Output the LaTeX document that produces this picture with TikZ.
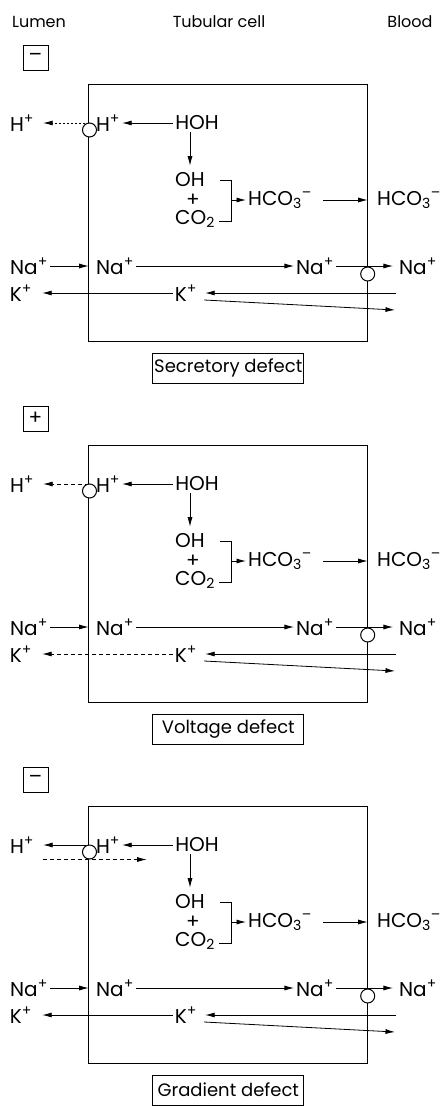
\documentclass[tikz,border=0pt]{standalone}
\usepackage{fontspec}
\setmainfont{Poppins}
\usetikzlibrary{arrows.meta}
\tikzset{
  ion/.style={inner sep=2pt, font=\fontsize{20}{22}\selectfont},
  head/.style={inner sep=0pt, font=\fontsize{16}{18}\selectfont},
  flow/.style={line width=0.8pt, -{Latex[length=9.5pt,width=5pt]}},
  wall/.style={line width=1pt},
  pore/.style={draw, wall, circle, fill=white, inner sep=0pt, minimum size=14pt},
  signbox/.style={draw, line width=0.7pt, minimum width=25pt, minimum height=25pt,
    inner sep=0pt, font=\fontsize{20}{20}\selectfont},
  defectbox/.style={draw, line width=0.7pt, minimum width=151pt, minimum height=30pt,
    inner sep=0pt, font=\fontsize{18}{20}\selectfont},
  finedash/.style={dash pattern=on 2pt off 2pt},
  longdash/.style={dash pattern=on 4pt off 3pt},
}
% one panel: #1 shift, #2 sign, #3 defect, #4 style of H+ exit, #5 style of K+ exit
\newcommand{\tubcell}[5]{%
  \begin{scope}[yshift=-#1pt]
    % lumen potential
    \node[signbox] (sign) at (35.5,57.5) {#2};
    % cell outline
    \draw[wall] (88.7,84.3) rectangle (367.7,341);
    % membrane points
    \coordinate (mH) at (88.7,123);
    \coordinate (mHCO) at (367.7,200);
    \coordinate (mNa) at (88.7,266);
    \coordinate (brk) at (231.7,200);
    \coordinate (kin) at (396,293);
    \coordinate (kout) at (395,310);
    \coordinate (hdin) at (42.7,137.5);
    \coordinate (hdout) at (146.7,137.5);
    % ions
    \node[ion] (Hl) at (22,123) {H\textsuperscript{+}};
    \node[ion] (Hc) at (108,123) {H\textsuperscript{+}};
    \node[ion] (HOH) at (197,123) {HOH};
    \node[ion, anchor=west] (OH) at (173,180) {OH};
    \node[ion] (plus) at (193,200) {+};
    \node[ion, anchor=west] (CO) at (173,219) {CO\textsubscript{2}};
    \node[ion, anchor=west] (HCOc) at (246,200) {HCO\textsubscript{3}\textsuperscript{–}};
    \node[ion, anchor=west] (HCOb) at (375,200) {HCO\textsubscript{3}\textsuperscript{–}};
    \node[ion] (Nal) at (29,266) {Na\textsuperscript{+}};
    \node[ion] (Nac) at (115,266) {Na\textsuperscript{+}};
    \node[ion] (Nar) at (315,266) {Na\textsuperscript{+}};
    \node[ion] (Nab) at (418,266) {Na\textsuperscript{+}};
    \node[ion] (Kl) at (21,293) {K\textsuperscript{+}};
    \node[ion] (Kc) at (186,293) {K\textsuperscript{+}};
    % H+ and bicarbonate
    \draw[flow] (HOH) -- (Hc);
    \draw[flow, #4] (mH) -- (Hl);
    \draw[flow, shorten >=5pt] (OH.north |- HOH.south) -- (OH.north);
    \draw[line width=0.8pt] (220,180) -| (231.7,221) -- (219,221);
    \draw[flow] (brk) -- (brk -| HCOc.west);
    \draw[flow, shorten <=9pt] (HCOc.east |- mHCO) -- (mHCO);
    % Na+ and K+
    \draw[flow] (Nal) -- (mNa);
    \draw[flow] (Nac) -- (Nar);
    \draw[flow, shorten >=4pt] (Nar) -- (Nab);
    \draw[flow, #5, shorten >=8pt] (Kc) -- (Kl);
    \draw[flow, shorten >=6pt] (kin) -- (Kc);
    \draw[flow] ([xshift=5pt,yshift=-7pt]Kc.east) -- (kout);
    % carriers
    \node[pore] (pA) at (89.5,130) {};
    \node[pore] (pB) at (367.7,274) {};
    % label
    \node[defectbox] (title) at (228.3,368) {#3};
  \end{scope}}
\begin{document}
\begin{tikzpicture}[x=1pt, y=-1pt]
  \useasboundingbox (0,0) rectangle (440,1106);
  % compartments
  \node[head] (lumen) at (39,22) {Lumen};
  \node[head] (cell) at (219,22) {Tubular cell};
  \node[head] (blood) at (410,22) {Blood};
  % panels
  \tubcell{0}{–}{Secretory defect}{finedash, shorten >=7pt}{}
  \tubcell{361}{+}{Voltage defect}{longdash, shorten >=7pt}{longdash}
  \tubcell{722}{–}{Gradient defect}{shorten >=7pt}{}
  \draw[flow, longdash] (hdin) -- (hdout);
\end{tikzpicture}
\end{document}
